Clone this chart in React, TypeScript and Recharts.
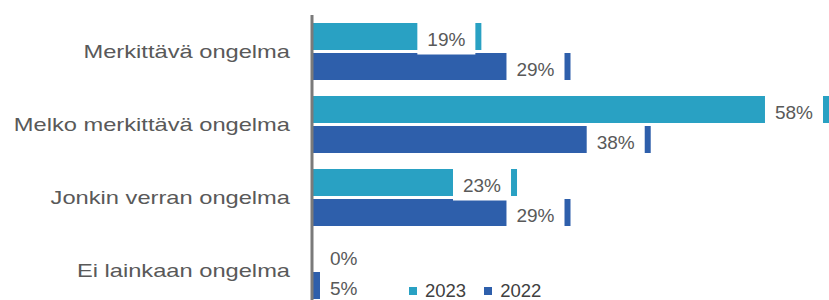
import { BarChart, Bar, XAxis, YAxis, Legend, LabelList } from 'recharts'

const categories = [
  'Merkittävä ongelma',
  'Melko merkittävä ongelma',
  'Jonkin verran ongelma',
  'Ei lainkaan ongelma',
]
const values2023 = [19, 58, 23, 0]
const values2022 = [29, 38, 29, 5]
const seriesNames = ['2023', '2022']

const colors = {
  y2023: '#29A1C3',
  y2022: '#2E5FAB',
  text: '#595959',
  legendText: '#404040',
  axis: '#7a7a7a',
}

const FONT = '"Liberation Sans", Arial, sans-serif'
const LABEL_SIZE = 19

const chartData = categories.map((name, i) => ({
  name,
  y2023: values2023[i],
  y2022: values2022[i],
}))

function textWidth(s: string, size: number) {
  let w = 0
  for (const ch of s) w += ch === '%' ? 0.889 : 0.556
  return w * size
}

function CategoryTick(props: any) {
  const { x, y, payload } = props
  return (
    <g transform={`translate(${x},${y})`}>
      <text
        transform="scale(1.28,1)"
        textAnchor="end"
        dy={6.7}
        fill={colors.text}
        fontSize={18.5}
        fontFamily={FONT}
      >
        {payload.value}
      </text>
    </g>
  )
}

// white label box sits over the bar end, leaving a small stub of the bar visible after it
function ValueLabel(props: any) {
  const { x, y, width, height, value } = props
  const text = `${value}%`
  const boxW = textWidth(text, LABEL_SIZE) + 20
  const end = x + width
  let left = end - 6 - boxW
  if (left < x + 8) left = x + 8
  const cy = y + height / 2
  return (
    <g>
      <rect x={left} y={cy - 14} width={boxW} height={32} fill="#ffffff" />
      <text
        x={left + boxW / 2}
        y={cy + 9}
        textAnchor="middle"
        fill={colors.text}
        fontSize={LABEL_SIZE}
        fontFamily={FONT}
      >
        {text}
      </text>
    </g>
  )
}

function LegendContent() {
  const items = [
    { name: seriesNames[0], color: colors.y2023 },
    { name: seriesNames[1], color: colors.y2022 },
  ]
  return (
    <div style={{ display: 'flex', alignItems: 'center', fontFamily: FONT, fontSize: 18.5, lineHeight: 1, color: colors.legendText }}>
      {items.map((it) => (
        <div key={it.name} style={{ display: 'flex', alignItems: 'center', marginRight: 18 }}>
          <span style={{ display: 'inline-block', width: 8, height: 8, background: it.color, marginRight: 8 }} />
          <span>{it.name}</span>
        </div>
      ))}
    </div>
  )
}

export default function App() {
  return (
    <div style={{ position: 'absolute', left: 0, top: 0, width: 829, height: 300, overflow: 'hidden', background: '#fff' }}>
      <BarChart
        width={829}
        height={320}
        data={chartData}
        layout="vertical"
        margin={{ top: 15, right: 0, left: 0, bottom: 13 }}
        barCategoryGap={8}
        barGap={3}
      >
        <XAxis type="number" domain={[0, 58]} hide />
        <YAxis
          type="category"
          dataKey="name"
          width={312}
          tickLine={false}
          tickSize={6}
          tickMargin={16}
          axisLine={{ stroke: colors.axis, strokeWidth: 3 }}
          tick={<CategoryTick />}
        />
        <Legend
          layout="horizontal"
          verticalAlign="middle"
          align="center"
          content={<LegendContent />}
          wrapperStyle={{ left: 409, top: 282, width: 'auto' }}
        />
        <Bar dataKey="y2023" name={seriesNames[0]} fill={colors.y2023} minPointSize={1} isAnimationActive={false}>
          <LabelList dataKey="y2023" content={<ValueLabel />} />
        </Bar>
        <Bar dataKey="y2022" name={seriesNames[1]} fill={colors.y2022} isAnimationActive={false}>
          <LabelList dataKey="y2022" content={<ValueLabel />} />
        </Bar>
      </BarChart>
    </div>
  )
}
